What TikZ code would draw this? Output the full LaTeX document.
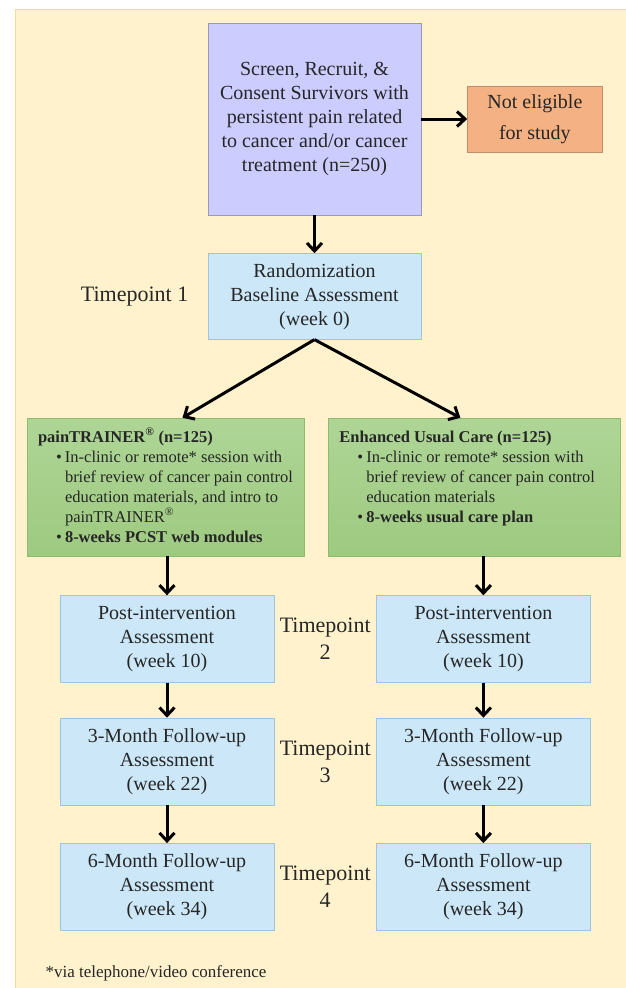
\documentclass[tikz,border=0pt]{standalone}
\usepackage{fontspec}
\setmainfont{Liberation Serif}
\usetikzlibrary{arrows.meta, positioning, calc, backgrounds}

\definecolor{creambg}{HTML}{FFF2CC}
\definecolor{creamedge}{HTML}{F5DB8E}
\definecolor{lavender}{HTML}{CCCCFF}
\definecolor{salmon}{HTML}{F4B183}
\definecolor{skyblue}{HTML}{CCE8F8}
\definecolor{skyedge}{HTML}{9DC3E6}
\definecolor{greentop}{HTML}{AED596}
\definecolor{greenbot}{HTML}{9ECA80}
\definecolor{greenedge}{HTML}{8DBB6E}
\definecolor{inktext}{HTML}{262626}

\newcommand{\bulletline}{\hspace*{18pt}\makebox[9pt][l]{\textbullet}}
\newcommand{\bulletcont}{\hspace*{27pt}}

\begin{document}
\begin{tikzpicture}[
    x=1pt, y=1pt,
    font=\fontsize{20}{24}\selectfont,
    text=inktext,
    % Styles
    base/.style = {rectangle, draw, thin, align=center, inner sep=0pt},
    enroll/.style = {base, fill=lavender, draw=lavender!75!black, minimum width=213pt, minimum height=192pt},
    excluded/.style = {base, fill=salmon, draw=salmon!80!black, minimum width=135pt, minimum height=66pt, font=\fontsize{20}{31}\selectfont},
    assess/.style = {base, fill=skyblue, draw=skyedge, minimum width=214pt, minimum height=87pt},
    arm/.style = {base, top color=greentop, bottom color=greenbot, draw=greenedge, inner xsep=11pt, font=\fontsize{16.5}{20}\selectfont},
    tpoint/.style = {align=center, font=\fontsize{22}{27}\selectfont},
    arrow/.style = {-{Straight Barb[length=8pt, width=15pt, line width=3pt]}, line width=3pt, draw=black}
]
\useasboundingbox (0,0) rectangle (626,-988);

% --- 1. ENROLLMENT ---
\node[enroll] (screen) at (314.5,-119) {Screen, Recruit, \&\\Consent Survivors with\\persistent pain related\\to cancer and/or cancer\\treatment (n=250)};
\node[excluded, right=46pt of screen] (noelig) {Not eligible\\for study};
\node[assess, minimum width=213pt, minimum height=86pt, below=38pt of screen] (random) {Randomization\\Baseline Assessment\\(week 0)};
\node[tpoint, left=16pt of random] (tp1) {Timepoint 1};

\draw[arrow] (screen) -- (noelig);
\draw[arrow] (screen) -- (random);

% --- 2. STUDY ARMS ---
\node[arm] (painbox) at (165.5,-487) {\parbox[c][138pt][t]{255pt}{\raggedright
    \rule{0pt}{24pt}\textbf{painTRAINER\textsuperscript{\textregistered} (n=125)}\\
    \bulletline In-clinic or remote* session with\\
    \bulletcont brief review of cancer pain control\\
    \bulletcont education materials, and intro to\\
    \bulletcont painTRAINER\textsuperscript{\textregistered}\\
    \bulletline\textbf{8-weeks PCST web modules}}};
\node[arm, right=24pt of painbox] (eucbox) {\parbox[c][138pt][t]{270pt}{\raggedright
    \rule{0pt}{24pt}\textbf{Enhanced Usual Care (n=125)}\\
    \bulletline In-clinic or remote* session with\\
    \bulletcont brief review of cancer pain control\\
    \bulletcont education materials\\
    \bulletline\textbf{8-weeks usual care plan}}};

\draw[arrow] (random.south) -- ([xshift=17pt]painbox.north);
\draw[arrow] (random.south) -- ([xshift=-14pt]eucbox.north);

% --- 3. FOLLOW-UP ASSESSMENTS ---
\node[assess] (post1) at (167,-639) {Post-intervention\\Assessment\\(week 10)};
\node[assess, right=102pt of post1] (post2) {Post-intervention\\Assessment\\(week 10)};
\node[assess, below=35pt of post1] (fuA1) {3-Month Follow-up\\Assessment\\(week 22)};
\node[assess, below=35pt of post2] (fuA2) {3-Month Follow-up\\Assessment\\(week 22)};
\node[assess, below=38pt of fuA1] (fuB1) {6-Month Follow-up\\Assessment\\(week 34)};
\node[assess, below=38pt of fuA2] (fuB2) {6-Month Follow-up\\Assessment\\(week 34)};

\node[tpoint] (tp2) at ($(post1.east)!0.5!(post2.west)$) {Timepoint\\2};
\node[tpoint] (tp3) at ($(fuA1.east)!0.5!(fuA2.west)$) {Timepoint\\3};
\node[tpoint] (tp4) at ($(fuB1.east)!0.5!(fuB2.west)$) {Timepoint\\4};

\draw[arrow] (painbox.south -| post1.north) -- (post1.north);
\draw[arrow] (eucbox.south -| post2.north) -- (post2.north);
\draw[arrow] (post1) -- (fuA1);
\draw[arrow] (post2) -- (fuA2);
\draw[arrow] (fuA1) -- (fuB1);
\draw[arrow] (fuA2) -- (fuB2);

\node[anchor=west, font=\fontsize{17}{20}\selectfont] (note) at (42,-973) {*via telephone/video conference};

\begin{scope}[on background layer]
    \fill[white] (0,0) rectangle (626,-988);
    \draw[fill=creambg, draw=creamedge, line width=1pt] (15,-9) rectangle (632,-994);
\end{scope}

\end{tikzpicture}
\end{document}
